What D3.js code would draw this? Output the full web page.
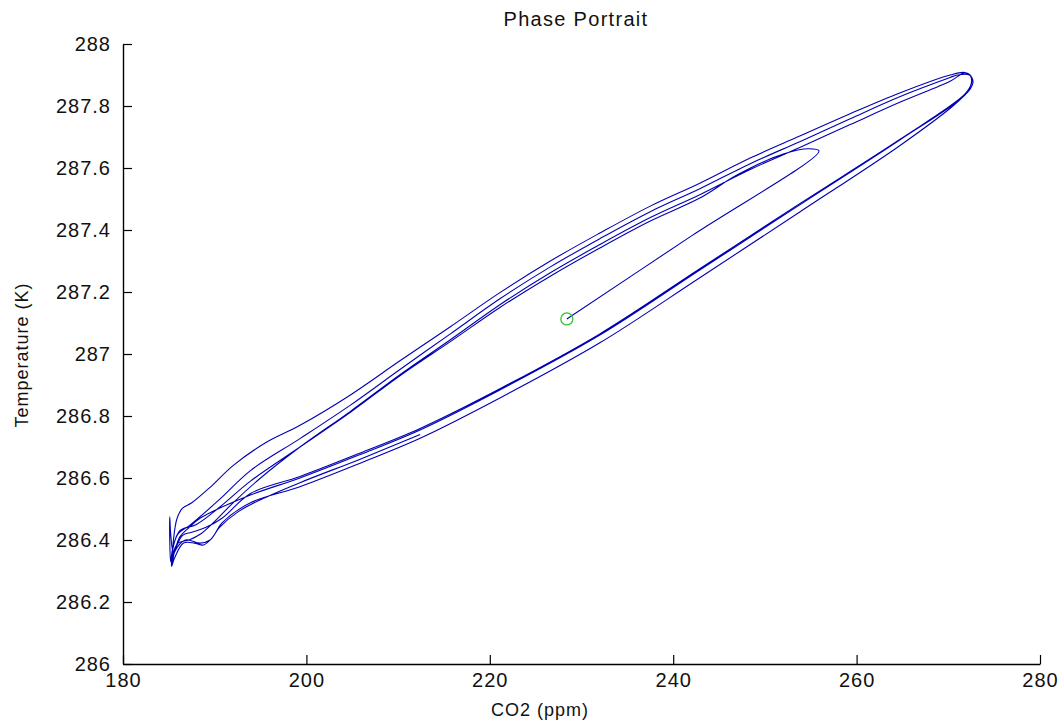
<!DOCTYPE html>
<html><head><meta charset="utf-8">
<script src="https://cdn.jsdelivr.net/npm/d3@7"></script>
<style>body{margin:0;background:#fff}</style></head>
<body><svg id="chart" width="1064" height="728"></svg>
<script>
// ---- data ----
const xTicks = [180, 200, 220, 240, 260, 280];
const yTicks = [286, 286.2, 286.4, 286.6, 286.8, 287, 287.2, 287.4, 287.6, 287.8, 288];
const startCo2 = [228.4];
const startTemp = [287.113];

const co2Cycle1 = [228.4,242.0,255.9,254.8,252.0,247.0,242.9,237.5,232.0,226.6,221.1,215.7,210.2,204.8,199.3,193.9,190.5,188.0,186.2,185.5,185.3,185.6,186.6,187.8,188.8,189.8,190.8,193.9,199.3,205.8,212.4,221.1,232.0,242.9,253.8,264.7,270.5,272.4,272.7,272.3,271.0];
const tempCycle1 = [287.113,287.381,287.655,287.662,287.645,287.578,287.503,287.429,287.342,287.251,287.150,287.040,286.930,286.812,286.700,286.590,286.505,286.450,286.430,286.380,286.315,286.340,286.390,286.390,286.384,286.410,286.455,286.520,286.572,286.647,286.728,286.858,287.036,287.246,287.458,287.672,287.800,287.855,287.878,287.900,287.900];

const co2Cycle2 = [270.2,264.7,259.3,253.8,248.4,242.9,237.5,232.0,226.6,221.1,215.7,210.2,204.8,199.3,193.9,190.5,187.3,186.0,185.4,185.2,185.1,185.1,185.2,185.5,186.2,187.2,188.4,193.9,199.3,205.8,212.4,221.1,232.0,242.9,253.8,264.7,271.8,272.5,272.5,271.8];
const tempCycle2 = [287.892,287.830,287.759,287.685,287.614,287.533,287.459,287.372,287.281,287.178,287.065,286.950,286.835,286.727,286.624,286.530,286.448,286.420,286.370,286.330,286.400,286.475,286.420,286.360,286.410,286.440,286.470,286.545,286.600,286.675,286.755,286.884,287.061,287.271,287.481,287.690,287.835,287.870,287.895,287.908];

const co2Cycle3 = [270.2,264.7,259.3,253.8,248.4,242.9,237.5,232.0,226.6,221.1,215.7,210.2,204.8,199.3,195.5,192.0,189.5,187.5,186.5,185.9,185.5,185.4,185.6,186.5,187.5,189.0,190.8,193.9,199.3,205.8,212.4,221.1,232.0,242.9,253.8,264.7,271.8,272.5,272.4,271.8];
const tempCycle3 = [287.900,287.842,287.775,287.703,287.632,287.551,287.477,287.390,287.300,287.198,287.088,286.978,286.868,286.770,286.713,286.640,286.570,286.520,286.503,286.470,286.400,286.330,286.360,286.415,286.425,286.440,286.470,286.550,286.605,286.680,286.760,286.888,287.065,287.275,287.485,287.692,287.838,287.872,287.898,287.907];

const co2Cycle4 = [270.2,264.7,259.3,253.8,248.4,242.9,237.5,232.0,226.6,221.1,215.7,210.2,204.8,199.3,195.0,192.0,190.0,188.5,187.2,186.0,185.4,185.35,185.6,186.8,188.4,189.5,190.5,192.5,195.0,199.3,205.8,212.4];
const tempCycle4 = [287.880,287.812,287.740,287.666,287.595,287.514,287.440,287.353,287.262,287.159,287.046,286.933,286.815,286.700,286.600,286.520,286.460,286.420,286.400,286.390,286.350,286.320,286.360,286.400,286.390,286.400,286.440,286.490,286.530,286.585,286.660,286.740];

// ---- chart ----
const svg = d3.select("#chart");
const x = d3.scaleLinear().domain([180, 280]).range([123, 1040]);
const y = d3.scaleLinear().domain([286, 288]).range([664, 44]);
const font = "'Liberation Sans', Arial, sans-serif";

const co2All = co2Cycle1.concat(co2Cycle2, co2Cycle3, co2Cycle4);
const tempAll = tempCycle1.concat(tempCycle2, tempCycle3, tempCycle4);
const pts = co2All.map((c, i) => [c, tempAll[i]]);

const line = d3.line().x(d => x(d[0])).y(d => y(d[1])).curve(d3.curveCatmullRom.alpha(0.5));
svg.append("path").datum(pts).attr("d", line)
  .attr("fill", "none").attr("stroke", "#0000b4").attr("stroke-width", 1.1);

svg.selectAll("circle.start").data(startCo2).enter().append("circle")
  .attr("cx", d => x(d)).attr("cy", (d, i) => y(startTemp[i])).attr("r", 6)
  .attr("fill", "none").attr("stroke", "#33c433").attr("stroke-width", 1.3);

const xAxis = svg.append("g").attr("transform", "translate(0,664)")
  .call(d3.axisBottom(x).tickValues(xTicks).tickSize(-9).tickSizeOuter(0).tickPadding(9).tickFormat(d3.format("d")));
const yAxis = svg.append("g").attr("transform", "translate(123,0)")
  .call(d3.axisLeft(y).tickValues(yTicks).tickSize(-9).tickSizeOuter(0).tickPadding(12).tickFormat(d => String(+d.toFixed(1))));
[xAxis, yAxis].forEach(g => {
  g.selectAll("path.domain").attr("stroke", "#000").attr("stroke-width", 1.4);
  g.selectAll(".tick line").attr("stroke", "#000").attr("stroke-width", 1.2);
  g.selectAll(".tick text").attr("fill", "#111").style("font-family", font)
    .style("font-size", "20px").style("letter-spacing", "1px");
});

svg.append("text").attr("x", 576).attr("y", 26).attr("text-anchor", "middle")
  .style("font-family", font).style("font-size", "20px").style("letter-spacing", "1.3px")
  .attr("fill", "#111").text("Phase Portrait");
svg.append("text").attr("x", 540).attr("y", 716).attr("text-anchor", "middle")
  .style("font-family", font).style("font-size", "18px").style("letter-spacing", "1px")
  .attr("fill", "#111").text("CO2 (ppm)");
svg.append("text").attr("transform", "translate(28,355) rotate(-90)").attr("text-anchor", "middle")
  .style("font-family", font).style("font-size", "18px").style("letter-spacing", "1px")
  .attr("fill", "#111").text("Temperature (K)");
</script></body></html>
